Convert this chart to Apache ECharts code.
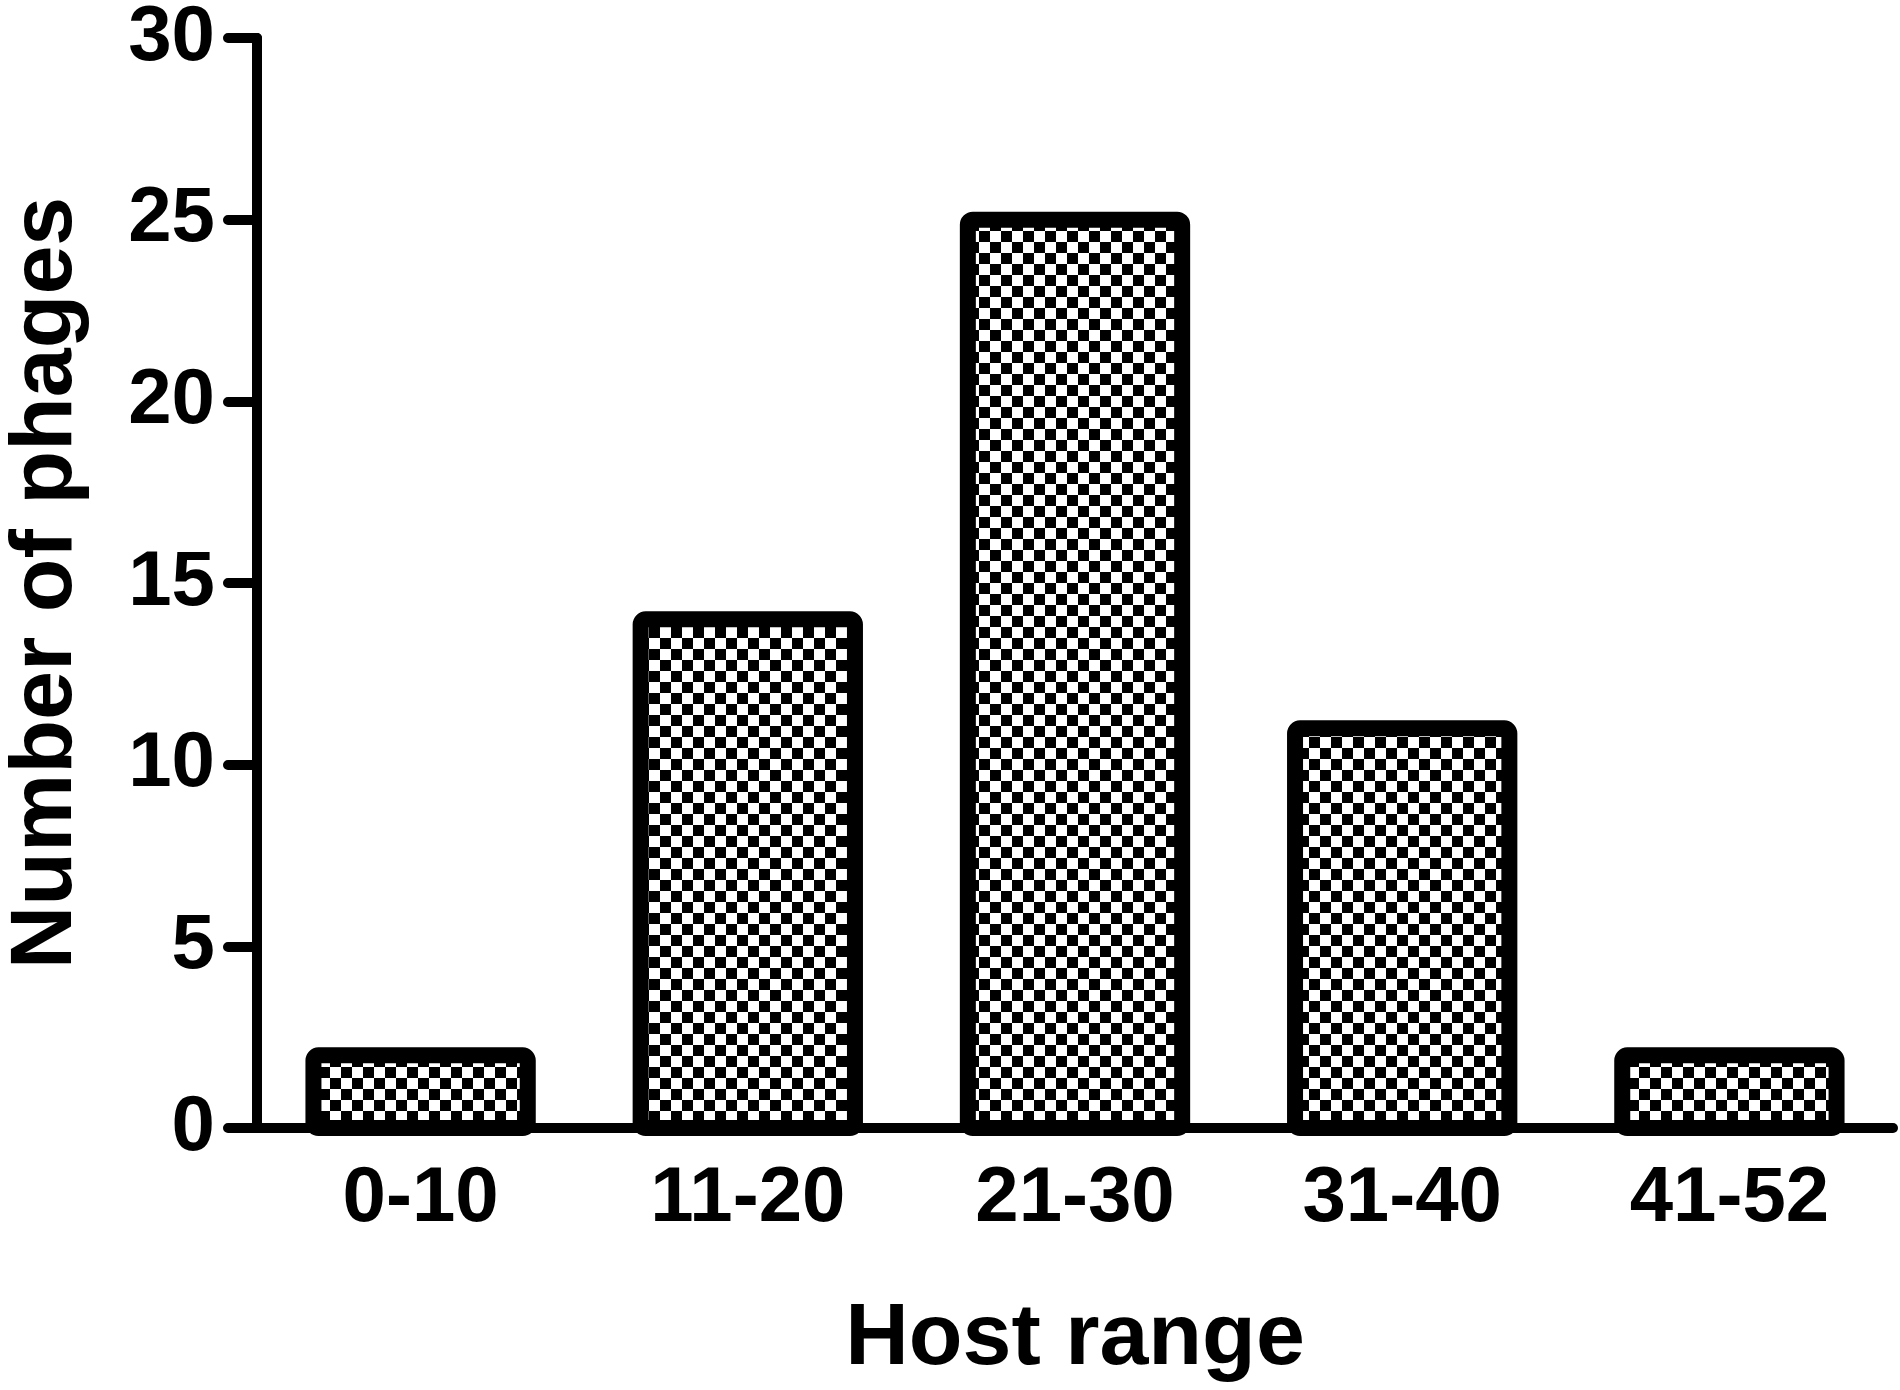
<!DOCTYPE html>
<html>
<head>
<meta charset="utf-8">
<title>Host range</title>
<script src="https://cdn.jsdelivr.net/npm/echarts/dist/echarts.min.js"></script>
<style>
    html, body { margin: 0; padding: 0; background: #ffffff; }
    #main { width: 1900px; height: 1390px; }
</style>
</head>
<body>
<div id="main"></div>
<script>
// chart data
var categories = ['0-10', '11-20', '21-30', '31-40', '41-52'];
var phageCounts = [2, 14, 25, 11, 2];
var yMin = 0;
var yMax = 30;
var yStep = 5;

// checkerboard fill used inside the bars
function makeChecker(size) {
    var c = document.createElement('canvas');
    c.width = size * 2;
    c.height = size * 2;
    var ctx = c.getContext('2d');
    ctx.fillStyle = '#ffffff';
    ctx.fillRect(0, 0, size * 2, size * 2);
    ctx.fillStyle = '#000000';
    ctx.fillRect(0, 0, size, size);
    ctx.fillRect(size, size, size, size);
    return c;
}
var checker = makeChecker(11);

var barData = [];
for (var i = 0; i < categories.length; i++) {
    barData.push([i, phageCounts[i]]);
}

var font = "'Liberation Sans', Arial, sans-serif";
var dom = document.getElementById('main');
var myChart = echarts.init(dom);

var option = {
    backgroundColor: '#ffffff',
    animation: false,
    grid: {
        left: 257,
        right: 7,
        top: 38,
        bottom: 262,
        containLabel: false,
        outerBoundsMode: 'none'
    },
    xAxis: {
        type: 'category',
        data: categories,
        boundaryGap: true,
        name: 'Host range',
        nameLocation: 'middle',
        nameGap: 168,
        nameTextStyle: {
            color: '#000',
            fontFamily: font,
            fontWeight: 'bold',
            fontSize: 88
        },
        axisLine: {
            lineStyle: { color: '#000', width: 10, cap: 'round' }
        },
        axisTick: {
            alignWithLabel: true,
            length: 30,
            lineStyle: { color: '#000', width: 10, cap: 'round' }
        },
        axisLabel: {
            margin: 32,
            color: '#000',
            fontFamily: font,
            fontWeight: 'bold',
            fontSize: 78
        },
        splitLine: { show: false }
    },
    yAxis: {
        type: 'value',
        min: yMin,
        max: yMax,
        interval: yStep,
        name: 'Number of phages',
        nameLocation: 'middle',
        nameGap: 166,
        nameTextStyle: {
            color: '#000',
            fontFamily: font,
            fontWeight: 'bold',
            fontSize: 88
        },
        axisLine: {
            show: true,
            lineStyle: { color: '#000', width: 10, cap: 'round' }
        },
        axisTick: {
            show: true,
            length: 29,
            lineStyle: { color: '#000', width: 10, cap: 'round' }
        },
        axisLabel: {
            margin: 42,
            color: '#000',
            fontFamily: font,
            fontWeight: 'bold',
            fontSize: 78
        },
        splitLine: { show: false }
    },
    series: [
        {
            // custom bars so the thick border is centred on the bar edge
            type: 'custom',
            data: barData,
            encode: { x: 0, y: 1 },
            renderItem: function (params, api) {
                var top = api.coord([api.value(0), api.value(1)]);
                var base = api.coord([api.value(0), 0]);
                var w = api.size([1, 0])[0] * 0.655;
                return {
                    type: 'rect',
                    shape: {
                        x: top[0] - w / 2,
                        y: top[1],
                        width: w,
                        height: base[1] - top[1],
                        r: 5
                    },
                    style: {
                        fill: { image: checker, repeat: 'repeat' },
                        stroke: '#000',
                        lineWidth: 16,
                        lineJoin: 'round'
                    }
                };
            }
        }
    ]
};

myChart.setOption(option, true);
</script>
</body>
</html>
